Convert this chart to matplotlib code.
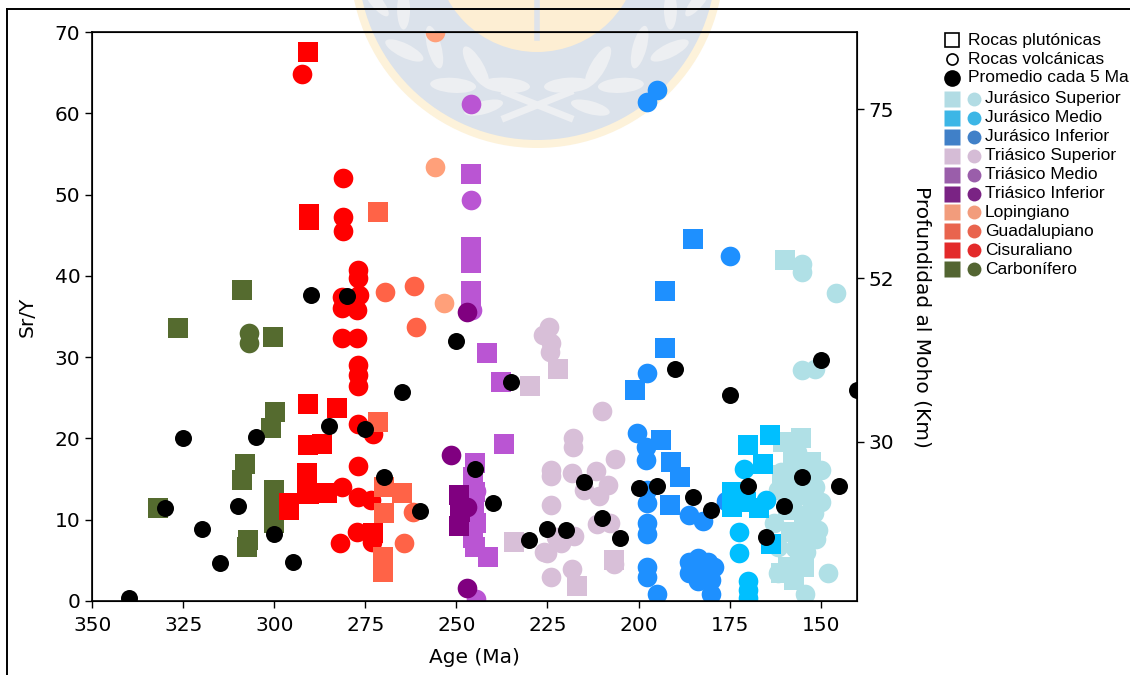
import math
import matplotlib.pyplot as plt
from matplotlib.patches import Circle, Ellipse
from matplotlib.lines import Line2D
from matplotlib.transforms import Affine2D

# Sr/Y vs age, (age Ma, Sr/Y) pairs per period; plut = squares, volc = circles
carb_plut = [(332.0, 11.5), (326.4, 33.6), (309.0, 38.3), (300.4, 32.5), (299.8, 23.3),
             (301.0, 21.3), (308.1, 16.9), (309.0, 14.9), (300.2, 13.7), (300.2, 12.3),
             (300.2, 11.0), (300.2, 9.6), (307.6, 6.7), (307.2, 7.5)]
carb_volc = [(307.1, 33.0), (307.1, 31.8)]

cis_plut = [(290.7, 67.5), (290.6, 47.6), (290.6, 46.9), (290.7, 24.2), (282.9, 23.7),
            (290.8, 19.2), (286.9, 19.3), (291.0, 15.8), (291.0, 14.4), (290.6, 13.2),
            (296.0, 12.0), (296.0, 11.2), (285.6, 13.3), (273.0, 8.4)]
cis_volc = [(292.4, 64.8), (281.2, 52.1), (281.2, 47.3), (281.2, 45.5), (277.0, 40.7),
            (277.0, 39.7), (276.8, 37.6), (281.4, 37.4), (281.4, 36.1), (277.2, 35.8),
            (281.4, 32.3), (277.2, 32.3), (276.9, 29.0), (276.9, 27.8), (276.9, 26.4),
            (276.9, 21.8), (272.8, 20.6), (276.9, 16.6), (281.5, 14.0), (276.9, 12.8),
            (273.5, 12.4), (277.3, 8.5), (281.9, 7.1), (273.2, 7.3)]

guad_plut = [(271.5, 47.8), (271.5, 22.0), (270.0, 14.0), (265.0, 13.3), (270.0, 10.8),
             (270.2, 5.4), (270.2, 3.6)]
guad_volc = [(269.6, 38.0), (261.7, 38.8), (261.2, 33.7), (261.8, 11.0), (264.5, 7.1)]

lop_plut = []
lop_volc = [(256.0, 70.0), (256.0, 53.4), (253.4, 36.7)]

trinf_plut = [(249.4, 13.0), (248.9, 10.9), (249.4, 9.2)]
trinf_volc = [(247.0, 35.6), (251.6, 17.9), (247.1, 11.6), (247.2, 1.6)]

trmed_plut = [(246.1, 52.5), (246.1, 43.5), (246.1, 41.6), (246.1, 38.1), (246.1, 37.2),
              (241.5, 30.5), (237.8, 26.9), (237.0, 19.3), (245.0, 17.0), (245.5, 15.2),
              (244.8, 13.4), (245.2, 11.4), (244.6, 9.6), (245.4, 7.8), (245.0, 6.6),
              (241.3, 5.4)]
trmed_volc = [(246.1, 61.1), (246.1, 49.3), (245.6, 35.8), (244.6, 0.3), (244.5, 13.5)]

trsup_plut = [(229.8, 26.5), (222.2, 28.5), (234.2, 7.3), (217.0, 1.8), (206.7, 5.0)]
trsup_volc = [(224.5, 33.7), (226.3, 32.7), (224.1, 31.7), (224.2, 30.6), (209.9, 23.4),
              (218.0, 20.0), (218.0, 19.0), (206.4, 17.5), (224.0, 16.1), (224.0, 15.4),
              (218.2, 15.8), (211.8, 16.0), (208.3, 14.3), (214.9, 13.6), (210.9, 12.9),
              (224.0, 11.8), (211.3, 9.5), (207.8, 9.6), (217.6, 8.0), (222.7, 7.9),
              (226.0, 6.0), (225.0, 5.9), (221.3, 7.1), (224.0, 3.0), (218.2, 3.9),
              (206.7, 4.6)]

jinf_plut = [(192.6, 38.1), (192.6, 31.1), (201.0, 26.0), (184.9, 44.5), (193.8, 19.8),
             (191.1, 17.1), (188.5, 15.3), (191.3, 11.8)]
jinf_volc = [(197.6, 61.4), (194.9, 62.9), (175.0, 42.4), (197.6, 28.0), (200.4, 20.7),
             (197.9, 19.0), (197.9, 17.3), (197.6, 13.7), (197.6, 12.0), (197.6, 9.6),
             (197.6, 8.3), (197.6, 4.2), (197.6, 3.0), (195.0, 0.9), (186.1, 4.8),
             (183.8, 5.3), (181.0, 4.8), (179.2, 4.2), (186.1, 3.4), (182.9, 3.8),
             (180.2, 2.6), (183.8, 2.4), (180.2, 0.9), (186.1, 10.6), (182.4, 9.8),
             (176.0, 12.3)]

jmed_plut = [(170.0, 19.2), (163.8, 20.4), (165.9, 16.9), (174.2, 13.4), (174.2, 11.6),
             (170.5, 12.2), (166.8, 11.4), (163.6, 7.0), (172.7, 12.4)]
jmed_volc = [(171.0, 16.3), (172.3, 8.5), (172.3, 5.9), (170.0, 2.4), (170.0, 1.3),
             (170.0, 0.4), (164.9, 12.4)]

jsup_plut = [(159.9, 41.9), (155.4, 20.0), (160.4, 19.6), (152.6, 17.1), (157.5, 17.5),
             (160.5, 15.5), (156.0, 13.8), (159.0, 11.2), (154.5, 10.5), (158.0, 8.5),
             (152.6, 8.1), (159.0, 4.2), (154.5, 4.2), (157.2, 2.6), (160.8, 3.4),
             (155.7, 5.6)]
jsup_volc = [(155.1, 41.5), (155.1, 40.5), (145.9, 37.9), (155.1, 28.4), (151.4, 28.6),
             (149.8, 16.1), (151.5, 14.0), (149.8, 12.2), (151.7, 10.8), (150.6, 8.7),
             (151.2, 7.6), (148.0, 3.5), (154.4, 0.9), (159.9, 3.8), (161.8, 6.7),
             (162.7, 9.6), (161.8, 13.7), (160.8, 15.9), (161.7, 3.4), (157.5, 12.3),
             (155.0, 9.0), (156.0, 15.5), (153.0, 12.5), (157.0, 6.5), (154.0, 6.0),
             (152.5, 15.0), (158.5, 14.0), (156.5, 18.3)]

# 5 Ma averages
avg_age = [340, 330, 325, 320, 315, 310, 305, 300, 295, 290, 285, 280, 275, 270, 265,
           260, 250, 245, 240, 235, 230, 225, 220, 215, 210, 205, 200, 195, 190, 185,
           180, 175, 170, 165, 160, 155, 150, 145, 140]
avg_sry = [0.4, 11.5, 20.1, 8.8, 4.7, 11.7, 20.2, 8.2, 4.8, 37.7, 21.5, 37.5, 21.1, 15.3,
           25.7, 11.1, 32.0, 16.2, 12.1, 26.9, 7.5, 8.9, 8.7, 14.6, 10.2, 7.7, 13.9, 14.2,
           28.5, 12.8, 11.2, 25.3, 14.1, 7.9, 11.7, 15.2, 29.7, 14.1, 25.9]

# Moho depth ticks on the right axis (Km) and their Sr/Y equivalents
moho_km = ['30', '52', '75']
moho_sry = [19.6, 39.7, 60.5]

periods = [
    ('Jurásico Superior', '#B0E0E6', '#b2dce4', jsup_plut, jsup_volc),
    ('Jurásico Medio', '#00BFFF', '#3cb6e6', jmed_plut, jmed_volc),
    ('Jurásico Inferior', '#1E90FF', '#4080c8', jinf_plut, jinf_volc),
    ('Triásico Superior', '#D8BFD8', '#d5bcd6', trsup_plut, trsup_volc),
    ('Triásico Medio', '#BA55D3', '#9a5eaa', trmed_plut, trmed_volc),
    ('Triásico Inferior', '#800080', '#7a2384', trinf_plut, trinf_volc),
    ('Lopingiano', '#FFA07A', '#f29c7c', lop_plut, lop_volc),
    ('Guadalupiano', '#FF6347', '#e9644e', guad_plut, guad_volc),
    ('Cisuraliano', '#FF0000', '#e32a2a', cis_plut, cis_volc),
    ('Carbonífero', '#556B2F', '#536532', carb_plut, carb_volc),
]
draw_order = ['Carbonífero', 'Cisuraliano', 'Guadalupiano', 'Lopingiano', 'Triásico Medio',
              'Triásico Inferior', 'Triásico Superior', 'Jurásico Superior',
              'Jurásico Inferior', 'Jurásico Medio']

W, H = 1130, 675
fig = plt.figure(figsize=(W / 100, H / 100), dpi=100)
fig.patch.set_facecolor('white')
# pixel coords measured from the top-left corner
px = Affine2D().scale(1 / W, -1 / H).translate(0, 1) + fig.transFigure


def add_px(artist):
    artist.set_zorder(-5)
    fig.add_artist(artist)


# faded seal in the background
cx, cy = 537, -39
add_px(Circle((cx, cy), 187, facecolor='#fdf2da', edgecolor='none', transform=px))
add_px(Circle((cx, cy), 179, facecolor='#dbe2eb', edgecolor='none', transform=px))
leaf_c = '#edeff2'
for side in (-1, 1):
    for ang, r, L, wd, tilt in [(14, 128, 48, 15, 10), (30, 122, 46, 15, -30),
                                (34, 150, 46, 15, 30), (50, 134, 44, 14, -25),
                                (56, 160, 42, 14, 30), (70, 142, 40, 13, -20),
                                (76, 166, 38, 12, 25), (20, 156, 40, 13, 35)]:
        t = math.radians(ang)
        ex = cx + side * r * math.sin(t)
        ey = cy + r * math.cos(t)
        tx, ty = side * math.cos(t), -math.sin(t)
        rx, ry = side * math.sin(t), math.cos(t)
        k = math.radians(tilt)
        dx = tx * math.cos(k) + rx * math.sin(k)
        dy = ty * math.cos(k) + ry * math.sin(k)
        add_px(Ellipse((ex, ey), L, wd, angle=math.degrees(math.atan2(dy, dx)),
                       facecolor=leaf_c, edgecolor='none', transform=px))
add_px(Line2D([505, 570], [118, 92], color=leaf_c, lw=5, transform=px))
add_px(Line2D([505, 570], [92, 118], color=leaf_c, lw=5, transform=px))
add_px(Circle((cx, -50), 102, facecolor='#fdeed3', edgecolor='none', transform=px))
add_px(Line2D([cx, cx], [0, 38], color='#dfe3ea', lw=4, transform=px))

# outer frame lines
fig.add_artist(Line2D([7, W], [9, 9], color='black', lw=1.4, transform=px))
fig.add_artist(Line2D([7, 7], [9, H], color='black', lw=1.4, transform=px))

ax = fig.add_axes([92.3 / W, 1 - 601 / H, (857 - 92.3) / W, (601 - 32) / H])
ax.set_facecolor('none')

lookup = {p[0]: p for p in periods}
for name in draw_order:
    _, color, _, plut, volc = lookup[name]
    if plut:
        ax.scatter([p[0] for p in plut], [p[1] for p in plut], s=200, marker='s',
                   color=color, linewidths=0, zorder=2)
    if volc:
        ax.scatter([p[0] for p in volc], [p[1] for p in volc], s=200, marker='o',
                   color=color, linewidths=0, zorder=2)
ax.scatter(avg_age, avg_sry, s=150, marker='o', color='black', linewidths=0, zorder=3)

ax.set_xlim(350, 140)
ax.set_ylim(0, 70)
ax.set_xticks([350, 325, 300, 275, 250, 225, 200, 175, 150])
ax.set_yticks(range(0, 71, 10))
ax.tick_params(labelsize=14.5, length=5, width=1)
ax.tick_params(axis='x', pad=6)
ax.set_xlabel('Age (Ma)', fontsize=14.5, labelpad=9)
ax.set_ylabel('Sr/Y', fontsize=14.5, labelpad=13)
for s in ax.spines.values():
    s.set_linewidth(1.2)

ax2 = ax.twinx()
ax2.set_ylim(0, 70)
ax2.set_yticks(moho_sry)
ax2.set_yticklabels(moho_km)
ax2.tick_params(labelsize=14.5, length=5, width=1)
ax2.set_ylabel('Profundidad al Moho (Km)', fontsize=14.5, rotation=270, labelpad=27)

# legend block
lf = dict(fontsize=12.5, family='Liberation Sans', va='center', ha='left', transform=px)
fig.add_artist(Line2D([952], [40], marker='s', markersize=10.5, markerfacecolor='white',
                      markeredgecolor='black', markeredgewidth=1.2, ls='none', transform=px))
fig.text(968, 40, 'Rocas plutónicas', **lf)
fig.add_artist(Line2D([952], [59], marker='o', markersize=8, markerfacecolor='white',
                      markeredgecolor='black', markeredgewidth=1.2, ls='none', transform=px))
fig.text(968, 59, 'Rocas volcánicas', **lf)
fig.add_artist(Line2D([952], [78], marker='o', markersize=12, markerfacecolor='black',
                      markeredgecolor='none', ls='none', transform=px))
fig.text(968, 78, 'Promedio cada 5 Ma', **lf)

row_y = 99
for name, _, leg_color, _, _ in periods:
    fig.add_artist(Line2D([952], [row_y], marker='s', markersize=11.5,
                          markerfacecolor=leg_color, markeredgecolor='none', ls='none',
                          transform=px))
    fig.add_artist(Line2D([974], [row_y], marker='o', markersize=10,
                          markerfacecolor=leg_color, markeredgecolor='none', ls='none',
                          transform=px))
    fig.text(985, row_y, name, **lf)
    row_y += 18.9

fig.savefig('out.png', dpi=100)
